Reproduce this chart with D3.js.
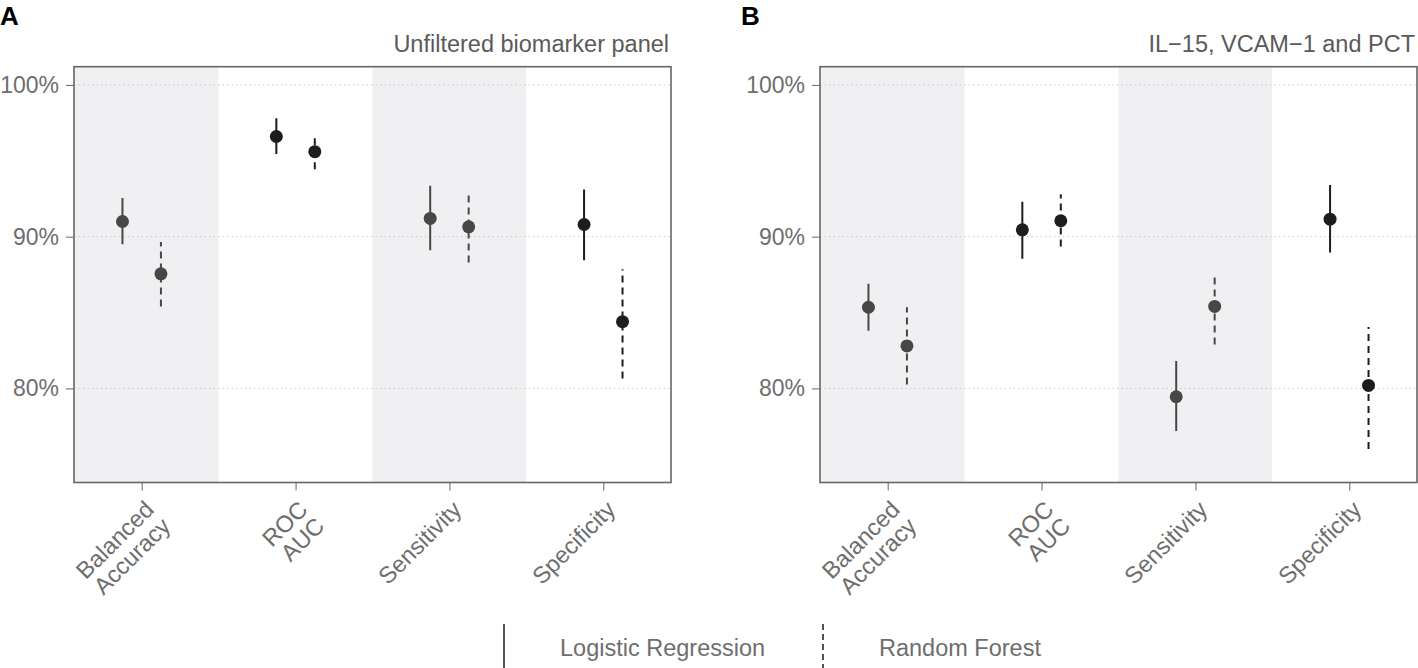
<!DOCTYPE html>
<html><head><meta charset="utf-8">
<script src="https://cdn.jsdelivr.net/npm/d3@7"></script>
<style>body{margin:0;background:#fff}svg{display:block;font-family:"Liberation Sans",Arial,sans-serif}</style>
</head><body><svg id="c" width="1418" height="668"></svg>
<script>
const metrics = ["Balanced\nAccuracy","ROC\nAUC","Sensitivity","Specificity"];
const models = ["Logistic Regression","Random Forest"];
const yTicks = [80, 90, 100];
const titleA = "Unfiltered biomarker panel";
const titleB = "IL\u221215, VCAM\u22121 and PCT";
// Panel A
const aLrEst = [91.0, 96.6, 91.2, 90.8];
const aLrLo  = [89.5, 95.45, 89.1, 88.45];
const aLrHi  = [92.55, 97.8, 93.35, 93.1];
const aRfEst = [87.55, 95.6, 90.65, 84.4];
const aRfLo  = [85.4, 94.45, 88.3, 80.65];
const aRfHi  = [89.65, 96.6, 92.95, 87.85];
// Panel B
const bLrEst = [85.35, 90.45, 79.45, 91.15];
const bLrLo  = [83.8, 88.55, 77.2, 88.95];
const bLrHi  = [86.9, 92.3, 81.8, 93.4];
const bRfEst = [82.8, 91.05, 85.4, 80.2];
const bRfLo  = [80.25, 89.35, 82.9, 76.0];
const bRfHi  = [85.35, 92.8, 87.6, 84.05];

const metricColor = ["#474747","#1d1d1f","#474747","#1d1d1f"];
const FS = "23.5px";
const svg = d3.select("#c");
const plotTop = 66.7, plotBottom = 482.5;
const y = d3.scaleLinear().domain([73.8, 101.2]).range([plotBottom, plotTop]);

function panel(left, right, letter, letterX, title, lr, rf) {
  const x = d3.scaleLinear().domain([0.56, 4.44]).range([left, right]);
  const g = svg.append("g");
  const clipId = "clip" + letter;
  svg.append("clipPath").attr("id", clipId).append("rect")
    .attr("x", left).attr("y", plotTop).attr("width", right-left).attr("height", plotBottom-plotTop);
  const pg = g.append("g").attr("clip-path", `url(#${clipId})`);
  pg.selectAll("rect.band").data(metrics).enter().append("rect")
    .attr("x", (d,i) => x(i+0.5)).attr("width", x(1.5)-x(0.5))
    .attr("y", plotTop).attr("height", plotBottom-plotTop)
    .attr("fill", (d,i) => i%2===0 ? "#f0f0f2" : "#ffffff");
  pg.selectAll("line.grid").data(yTicks).enter().append("line")
    .attr("x1", left).attr("x2", right).attr("y1", d=>y(d)).attr("y2", d=>y(d))
    .attr("stroke", "#c8c8c8").attr("stroke-width", 1).attr("stroke-dasharray", "1.5,3");
  const series = [
    {data: lr, off: -0.125, dash: null},
    {data: rf, off: 0.125, dash: "7,5"}
  ];
  series.forEach(s => {
    const [est, lo, hi] = s.data;
    pg.selectAll(null).data(est).enter().append("line")
      .attr("x1", (d,i) => x(i+1+s.off)).attr("x2", (d,i) => x(i+1+s.off))
      .attr("y1", (d,i) => y(lo[i])).attr("y2", (d,i) => y(hi[i]))
      .attr("stroke", (d,i) => metricColor[i]).attr("stroke-width", 2)
      .attr("stroke-dasharray", s.dash);
    pg.selectAll(null).data(est).enter().append("circle")
      .attr("cx", (d,i) => x(i+1+s.off)).attr("cy", d => y(d)).attr("r", 6.5)
      .attr("fill", (d,i) => metricColor[i]);
  });
  g.append("rect").attr("x", left).attr("y", plotTop).attr("width", right-left).attr("height", plotBottom-plotTop)
    .attr("fill", "none").attr("stroke", "#666").attr("stroke-width", 1.6);
  const ya = g.append("g").attr("transform", `translate(${left},0)`)
    .call(d3.axisLeft(y).tickValues(yTicks).tickSize(8).tickPadding(7).tickFormat(d => d + "%"));
  ya.select(".domain").remove();
  ya.selectAll(".tick line").attr("stroke", "#666").attr("stroke-width", 1);
  ya.selectAll(".tick text").attr("fill", "#6e6e6e").style("font-size", "23px")
    .style("font-family", '"Liberation Sans",Arial,sans-serif');
  const xa = g.append("g").attr("transform", `translate(0,${plotBottom})`)
    .call(d3.axisBottom(x).tickValues([1,2,3,4]).tickSize(8).tickFormat(""));
  xa.select(".domain").remove();
  xa.selectAll(".tick line").attr("stroke", "#666").attr("stroke-width", 1);
  metrics.forEach((m, i) => {
    const lines = m.split("\n");
    const t = g.append("g").attr("transform", `translate(${x(i+1)+1},${plotBottom+16}) rotate(-45)`)
      .append("text").attr("text-anchor", "end").attr("fill", "#6e6e6e").style("font-size", FS);
    lines.forEach((l, k) => {
      t.append("tspan").attr("x", 0).attr("y", 0).attr("dy", (0.75 + k*1.0) + "em").text(l);
    });
  });
  g.append("text").attr("x", right - 2).attr("y", 52).attr("text-anchor", "end")
    .attr("fill", "#5a5a5a").style("font-size", FS).text(title);
  g.append("text").attr("x", letterX).attr("y", 25).attr("fill", "#000")
    .style("font-size", "26px").style("font-weight", "bold").text(letter);
}

panel(74, 671, "A", 0, titleA, [aLrEst, aLrLo, aLrHi], [aRfEst, aRfLo, aRfHi]);
panel(820, 1417, "B", 741, titleB, [bLrEst, bLrLo, bLrHi], [bRfEst, bRfLo, bRfHi]);

const legX = [504, 823];
const leg = svg.append("g");
models.forEach((m, i) => {
  leg.append("line").attr("x1", legX[i]).attr("x2", legX[i]).attr("y1", 624).attr("y2", 672)
    .attr("stroke", "#1d1d1f").attr("stroke-width", 1.5)
    .attr("stroke-dasharray", i === 1 ? "6,4" : null);
  leg.append("text").attr("x", legX[i] + 56).attr("y", 656).attr("fill", "#6e6e6e")
    .style("font-size", FS).text(m);
});
</script></body></html>
